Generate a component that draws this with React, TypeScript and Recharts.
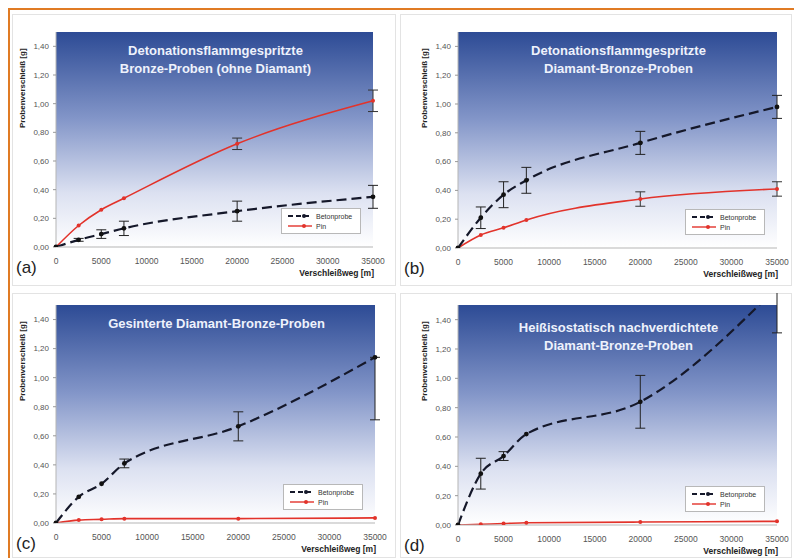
import { LineChart, Line, XAxis, YAxis, ErrorBar, ReferenceArea } from "recharts"

const distance = [0, 2500, 5000, 7500, 20000, 35000]
const xTicks = [0, 5000, 10000, 15000, 20000, 25000, 30000, 35000]
const yTicks = [0, 0.2, 0.4, 0.6, 0.8, 1.0, 1.2, 1.4]

type Err = number | [number, number]

// (a) Detonationsflammgespritzte Bronze-Proben (ohne Diamant)
const betonA = [0, 0.05, 0.09, 0.13, 0.25, 0.35]
const betonErrA: Err[] = [0, 0.01, 0.03, 0.05, 0.07, 0.08]
const pinA = [0, 0.15, 0.26, 0.34, 0.72, 1.02]
const pinErrA: Err[] = [0, 0, 0, 0, 0.04, 0.075]

// (b) Detonationsflammgespritzte Diamant-Bronze-Proben
const betonB = [0, 0.21, 0.37, 0.47, 0.73, 0.98]
const betonErrB: Err[] = [0, 0.075, 0.09, 0.09, 0.08, 0.08]
const pinB = [0, 0.09, 0.14, 0.195, 0.34, 0.41]
const pinErrB: Err[] = [0, 0, 0, 0, 0.05, 0.05]

// (c) Gesinterte Diamant-Bronze-Proben
const betonC = [0, 0.18, 0.27, 0.41, 0.665, 1.14]
const betonErrC: Err[] = [0, 0, 0, 0.03, 0.1, [0.43, 0]]
const pinC = [0, 0.02, 0.025, 0.03, 0.03, 0.035]
const pinErrC: Err[] = [0, 0, 0, 0, 0, 0]

// (d) Heißisostatisch nachverdichtete Diamant-Bronze-Proben
const betonD = [0, 0.35, 0.47, 0.62, 0.84, 1.62]
const betonErrD: Err[] = [0, 0.105, 0.03, 0, 0.18, [0.31, 0]]
const pinD = [0, 0.005, 0.01, 0.015, 0.02, 0.025]
const pinErrD: Err[] = [0, 0, 0, 0, 0, 0]

const FONT = "'Liberation Sans', Arial, sans-serif"
const BETON = "#15182a"
const PIN = "#e2332b"

type Rect = { left: number; top: number; right: number; bottom: number }

function rows(b: number[], be: Err[], p: number[], pe: Err[]) {
  return distance.map((x, i) => ({
    x,
    beton: b[i],
    betonErr: be[i],
    pin: p[i],
    pinErr: pe[i],
  }))
}

function Legend({ style }: { style: React.CSSProperties }) {
  const item = (color: string, dash: string | undefined, label: string) => (
    <div style={{ display: "flex", alignItems: "center", height: 10 }}>
      <svg width={26} height={6} style={{ marginRight: 3 }}>
        <line x1={1} y1={3} x2={25} y2={3} stroke={color} strokeWidth={dash ? 2 : 1.4} strokeDasharray={dash} />
        <circle cx={17} cy={3} r={2} fill={color} />
      </svg>
      <span style={{ fontSize: 7, color: "#333" }}>{label}</span>
    </div>
  )
  return (
    <div
      style={{
        position: "absolute",
        width: 80,
        height: 26,
        boxSizing: "border-box",
        border: "1px solid #b8b8b8",
        background: "#fff",
        padding: "2px 0 0 5px",
        fontFamily: FONT,
        ...style,
      }}
    >
      {item(BETON, "5 3", "Betonprobe")}
      {item(PIN, undefined, "Pin")}
    </div>
  )
}

function Panel({
  id,
  letter,
  title,
  box,
  plot,
  titleTop,
  data,
}: {
  id: string
  letter: string
  title: string[]
  box: Rect
  plot: Rect
  titleTop: number
  data: ReturnType<typeof rows>
}) {
  const w = box.right - box.left
  const h = box.bottom - box.top
  const yAxisW = 30
  const xAxisH = 20
  const pl = plot.left - box.left
  const pt = plot.top - box.top
  const pr = box.right - plot.right
  const pb = box.bottom - plot.bottom
  const pw = plot.right - plot.left
  const gid = `bg-${id}`
  return (
    <div
      style={{
        position: "absolute",
        left: box.left,
        top: box.top,
        width: w,
        height: h,
        boxSizing: "border-box",
        border: "1px solid #e3e3e3",
        background: "#fff",
        fontFamily: FONT,
      }}
    >
      <div style={{ position: "absolute", left: -1, top: -1 }}>
        <LineChart
          width={w}
          height={h}
          data={data}
          margin={{ top: pt, right: pr, bottom: pb - xAxisH, left: pl - yAxisW }}
        >
          <defs>
            <linearGradient id={gid} x1="0" y1="0" x2="0" y2="1">
              <stop offset="0%" stopColor="#2d4b95" />
              <stop offset="40%" stopColor="#8295c8" />
              <stop offset="75%" stopColor="#dce1f1" />
              <stop offset="100%" stopColor="#ffffff" />
            </linearGradient>
          </defs>
          <ReferenceArea x1={0} x2={35000} y1={0} y2={1.5} fill={`url(#${gid})`} fillOpacity={1} stroke="none" />
          <XAxis
            type="number"
            dataKey="x"
            domain={[0, 35000]}
            ticks={xTicks}
            height={xAxisH}
            tickLine={false}
            tickMargin={5}
            axisLine={{ stroke: "#b5b5b5" }}
            tick={{ fontSize: 8.5, fill: "#555", fontFamily: FONT }}
          />
          <YAxis
            type="number"
            domain={[0, 1.5]}
            allowDataOverflow
            ticks={yTicks}
            width={yAxisW}
            tickSize={3}
            tickMargin={4}
            tickLine={{ stroke: "#999" }}
            axisLine={{ stroke: "#b5b5b5" }}
            tickFormatter={(v) => Number(v).toFixed(2).replace(".", ",")}
            tick={{ fontSize: 8, fill: "#555", fontFamily: FONT }}
          />
          <Line
            type="monotone"
            dataKey="pin"
            stroke={PIN}
            strokeWidth={1.6}
            dot={{ r: 2, fill: PIN, stroke: "none" }}
            isAnimationActive={false}
          >
            <ErrorBar dataKey="pinErr" direction="y" width={5} stroke="#333" strokeWidth={1} />
          </Line>
          <Line
            type="monotone"
            dataKey="beton"
            stroke={BETON}
            strokeWidth={2.2}
            strokeDasharray="10 5"
            dot={{ r: 2.4, fill: "#111", stroke: "none" }}
            isAnimationActive={false}
          >
            <ErrorBar dataKey="betonErr" direction="y" width={5} stroke="#222" strokeWidth={1} />
          </Line>
        </LineChart>
      </div>
      <div
        style={{
          position: "absolute",
          left: pl,
          width: pw,
          top: titleTop - box.top,
          textAlign: "center",
          color: "#eef2fc",
          fontWeight: "bold",
          fontSize: 13,
          lineHeight: "18px",
        }}
      >
        {title.map((t) => (
          <div key={t}>{t}</div>
        ))}
      </div>
      <div
        style={{
          position: "absolute",
          left: pl - 39,
          top: pt + 95,
          transform: "rotate(-90deg)",
          transformOrigin: "left top",
          whiteSpace: "nowrap",
          fontSize: 8,
          lineHeight: "10px",
          fontWeight: "bold",
          color: "#222",
        }}
      >
        Probenverschleiß [g]
      </div>
      <div
        style={{
          position: "absolute",
          left: pl,
          width: pw,
          top: plot.bottom - box.top + 20,
          textAlign: "right",
          fontSize: 8.5,
          lineHeight: "10px",
          fontWeight: "bold",
          color: "#222",
        }}
      >
        Verschleißweg [m]
      </div>
      <div
        style={{
          position: "absolute",
          left: 3,
          top: plot.bottom - box.top + 10,
          fontSize: 17,
          lineHeight: "20px",
          color: "#222",
        }}
      >
        {letter}
      </div>
      <Legend style={{ left: plot.right - box.left - 13 - 80, top: plot.bottom - box.top - 14 - 26 }} />
    </div>
  )
}

export default function App() {
  return (
    <div style={{ position: "absolute", left: 0, top: 0, width: 794, height: 558, background: "#fff", overflow: "hidden" }}>
      <div style={{ position: "absolute", left: 9, top: 8, width: 785, height: 2, background: "#e07b24" }} />
      <div style={{ position: "absolute", left: 8, top: 8, width: 2, height: 550, background: "#e07b24" }} />
      <Panel
        id="a"
        letter="(a)"
        title={["Detonationsflammgespritzte", "Bronze-Proben (ohne Diamant)"]}
        box={{ left: 12, top: 14, right: 396, bottom: 286 }}
        plot={{ left: 56, top: 32, right: 373, bottom: 247 }}
        titleTop={41}
        data={rows(betonA, betonErrA, pinA, pinErrA)}
      />
      <Panel
        id="b"
        letter="(b)"
        title={["Detonationsflammgespritzte", "Diamant-Bronze-Proben"]}
        box={{ left: 400, top: 14, right: 792, bottom: 286 }}
        plot={{ left: 458, top: 32, right: 777, bottom: 248 }}
        titleTop={41}
        data={rows(betonB, betonErrB, pinB, pinErrB)}
      />
      <Panel
        id="c"
        letter="(c)"
        title={["Gesinterte Diamant-Bronze-Proben"]}
        box={{ left: 12, top: 293, right: 396, bottom: 558 }}
        plot={{ left: 56, top: 305, right: 375, bottom: 523 }}
        titleTop={314}
        data={rows(betonC, betonErrC, pinC, pinErrC)}
      />
      <Panel
        id="d"
        letter="(d)"
        title={["Heißisostatisch nachverdichtete", "Diamant-Bronze-Proben"]}
        box={{ left: 400, top: 293, right: 792, bottom: 558 }}
        plot={{ left: 458, top: 305, right: 777, bottom: 525 }}
        titleTop={318}
        data={rows(betonD, betonErrD, pinD, pinErrD)}
      />
    </div>
  )
}
